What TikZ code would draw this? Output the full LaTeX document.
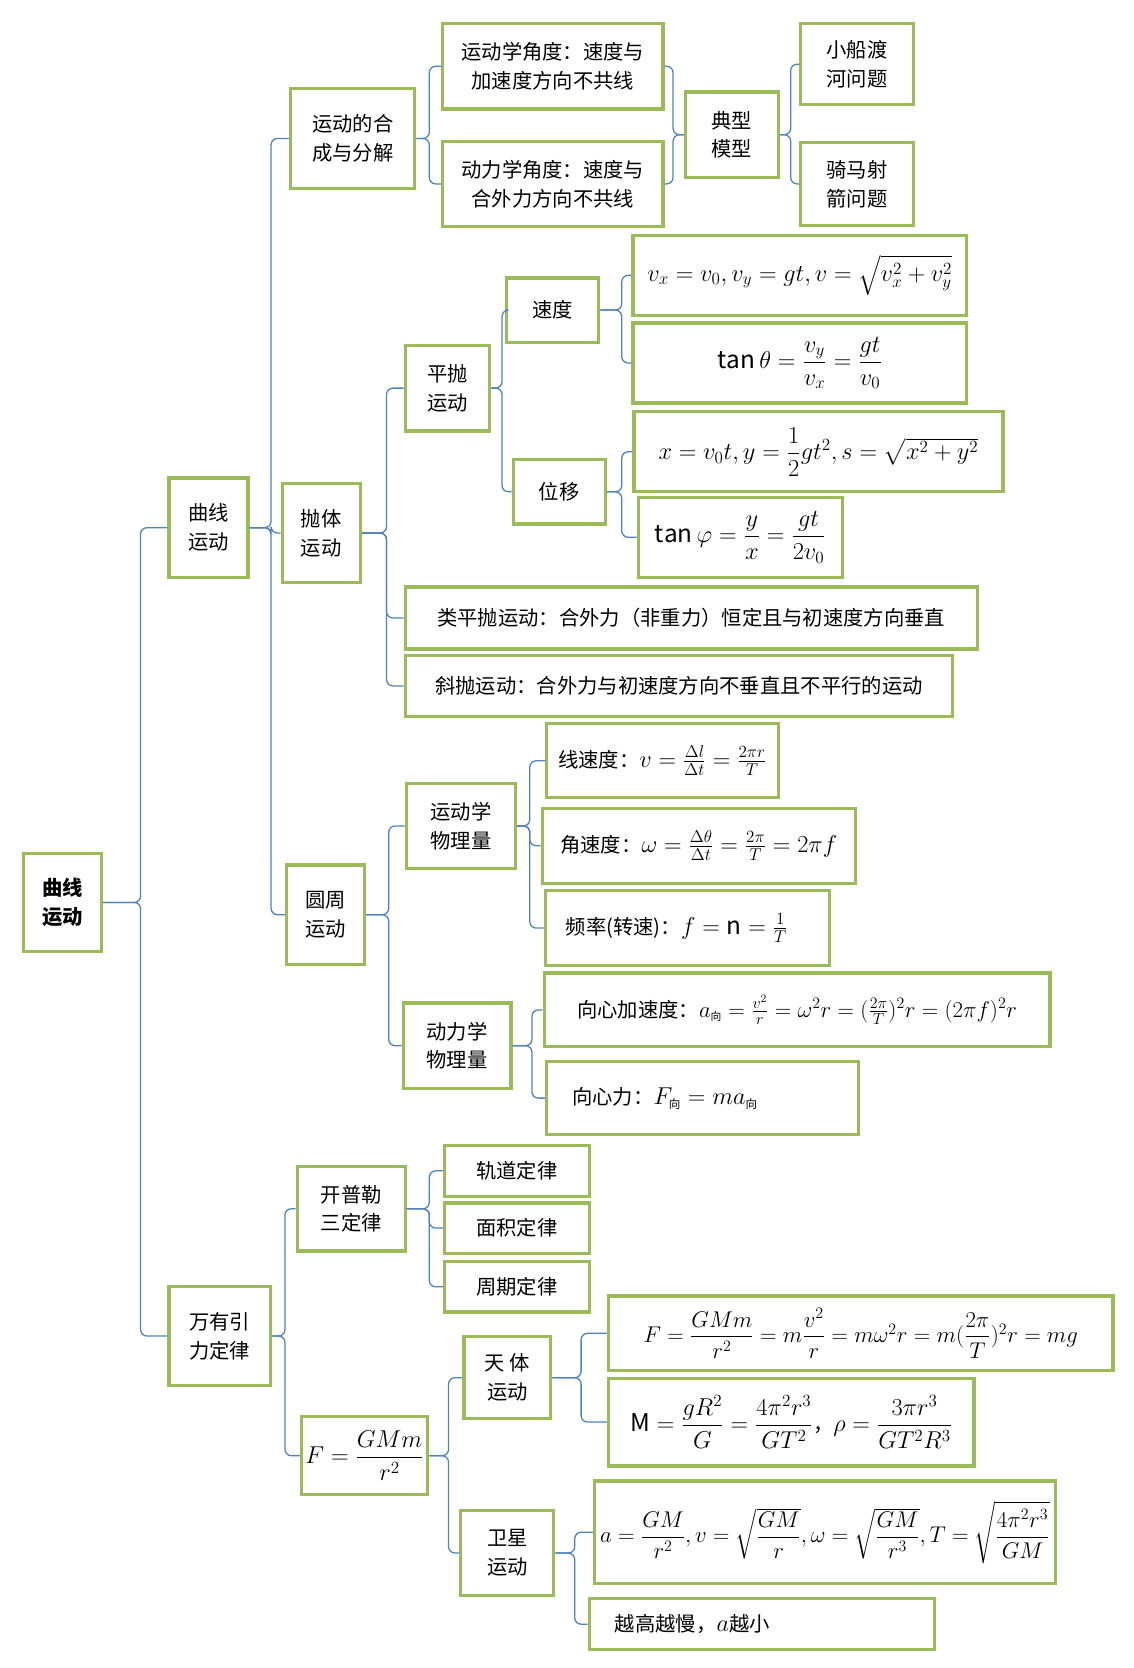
\RequirePackage{fix-cm}
\documentclass[tikz,border=0pt]{standalone}
\usepackage{amsmath}
\usepackage{graphicx}
\usepackage{fontspec}
\setmainfont{Noto Sans CJK SC}
\usetikzlibrary{calc}
\definecolor{boxgreen}{RGB}{155,187,89}
\definecolor{linkblue}{RGB}{79,129,189}
\tikzset{every picture/.style={line width=0.75pt}}
\tikzset{
  box/.style={draw=boxgreen, line width=3pt, fill=white, align=center, inner sep=2pt,
    font=\fontsize{19}{27}\selectfont},
  conn/.style={draw=linkblue, line width=1.2pt, rounded corners=6pt}
}
% box from corners (x1,y1) to (x2,y2)
\newcommand{\bx}[6]{\node[box, minimum width={(#4-#2)*1pt}, minimum height={(#5-#3)*1pt}]
  (#1) at ({(#2+#4)/2},{(#3+#5)/2}) {#6};}
% parent to children
\newcommand{\branch}[3]{\foreach \c in {#3} {\draw[conn] (#1.east) -- ++(#2,0) |- (\c.west);}}
\newcommand{\fm}[1]{\scalebox{1.2}{$#1$}}
\newcommand{\fms}[1]{\scalebox{1.12}{$#1$}}
\newcommand{\xiang}{\hbox{\fontsize{9}{9}\selectfont 向}}

\begin{document}
\begin{tikzpicture}[x=1pt,y=-1pt]
\useasboundingbox (0,0) rectangle (1060,1560);

% level 1
\bx{root}{22}{798}{95}{890}{\bfseries 曲线\\\bfseries 运动}
\bx{curve}{158}{447}{232}{540}{曲线\\运动}
\bx{grav}{158}{1203}{253}{1296}{万有引\\力定律}

% curve motion
\bx{compose}{272}{83}{388}{176}{运动的合\\成与分解}
\bx{throw}{264}{452}{337}{545}{抛体\\运动}
\bx{circle}{268}{809}{341}{902}{圆周\\运动}
\bx{kinangle}{414}{22}{620}{102}{运动学角度：速度与\\加速度方向不共线}
\bx{dynangle}{414}{132}{620}{212}{动力学角度：速度与\\合外力方向不共线}
\bx{model}{641}{86}{728}{166}{典型\\模型}
\bx{boat}{749}{22}{854}{98}{小船渡\\河问题}
\bx{horse}{749}{133}{854}{211}{骑马射\\箭问题}

% projectile
\bx{flat}{379}{323}{458}{403}{平抛\\运动}
\bx{speed}{474}{260}{560}{320}{速度}
\bx{disp}{480}{430}{566}{490}{位移}
\bx{vform}{592}{220}{904}{295}{\fm{v_x=v_0,v_y=gt,v=\sqrt{v_x^2+v_y^2}}}
\bx{tantheta}{592}{302}{904}{377}{\fm{\tan\theta=\dfrac{v_y}{v_x}=\dfrac{gt}{v_0}}}
\bx{xform}{593}{385}{938}{460}{\fm{x=v_0t,y=\dfrac{1}{2}gt^2,s=\sqrt{x^2+y^2}}}
\bx{tanphi}{597}{465}{788}{540}{\fm{\tan\varphi=\dfrac{y}{x}=\dfrac{gt}{2v_0}}}
\bx{likeflat}{379}{549}{914}{607}{类平抛运动：合外力（非重力）恒定且与初速度方向垂直}
\bx{oblique}{379}{613}{891}{670}{斜抛运动：合外力与初速度方向不垂直且不平行的运动}

% circular
\bx{kinq}{380}{733}{482}{812}{运动学\\物理量}
\bx{dynq}{377}{938}{478}{1018}{动力学\\物理量}
\bx{linv}{511}{677}{728}{746}{线速度：\fm{v=\frac{\Delta l}{\Delta t}=\frac{2\pi r}{T}}}
\bx{angv}{507}{756}{800}{826}{角速度：\fm{\omega=\frac{\Delta\theta}{\Delta t}=\frac{2\pi}{T}=2\pi f}}
\bx{freq}{510}{833}{776}{903}{频率(转速)：\fm{f=\mathrm{n}=\frac{1}{T}}\hspace{20pt}}
\bx{cacc}{509}{910}{982}{979}{向心加速度：\fms{a_{\xiang}=\frac{v^2}{r}=\omega^2r=(\frac{2\pi}{T})^2r=(2\pi f)^2r}}
\bx{cforce}{511}{993}{803}{1061}{向心力：\fm{F_{\xiang}=ma_{\xiang}}\hspace{70pt}}

% gravitation
\bx{kepler}{278}{1091}{379}{1170}{开普勒\\三定律}
\bx{orbit}{416}{1071}{551}{1119}{轨道定律}
\bx{area}{416}{1125}{551}{1172}{面积定律}
\bx{period}{416}{1180}{551}{1227}{周期定律}
\bx{law}{282}{1325}{400}{1398}{\fm{F=\dfrac{GMm}{r^2}}}
\bx{celest}{434}{1250}{515}{1327}{天\ 体\\运动}
\bx{sat}{431}{1413}{518}{1492}{卫星\\运动}
\bx{fform}{569}{1212}{1041}{1282}{\fms{F=\dfrac{GMm}{r^2}=m\dfrac{v^2}{r}=m\omega^2r=m(\dfrac{2\pi}{T})^2r=mg}}
\bx{mform}{569}{1289}{911}{1371}{\fm{\mathrm{M}=\dfrac{gR^2}{G}=\dfrac{4\pi^2r^3}{GT^2}}，\fm{\rho=\dfrac{3\pi r^3}{GT^2R^3}}}
\bx{aform}{556}{1385}{987}{1481}{\fms{a=\dfrac{GM}{r^2},v=\sqrt{\dfrac{GM}{r}},\omega=\sqrt{\dfrac{GM}{r^3}},T=\sqrt{\dfrac{4\pi^2r^3}{GM}}}}
\bx{slow}{551}{1495}{874}{1543}{越高越慢，\fm{a}越小\hspace{130pt}}

% connectors
\branch{root}{35}{curve,grav}
\branch{curve}{20}{compose,throw,circle}
\branch{compose}{12}{kinangle,dynangle}
\foreach \c in {kinangle,dynangle} {\draw[conn] (model.west) -- ++(-10,0) |- (\c.east);}
\branch{model}{10}{boat,horse}
\branch{throw}{23}{flat,likeflat,oblique}
\branch{flat}{10}{speed,disp}
\branch{speed}{20}{vform,tantheta}
\branch{disp}{14}{xform,tanphi}
\branch{circle}{21}{kinq,dynq}
\branch{kinq}{12}{linv,angv,freq}
\branch{dynq}{18}{cacc,cforce}
\branch{grav}{12}{kepler,law}
\branch{kepler}{21}{orbit,area,period}
\branch{law}{18}{celest,sat}
\branch{celest}{27}{fform,mform}
\branch{sat}{18}{aform,slow}

\end{tikzpicture}
\end{document}
